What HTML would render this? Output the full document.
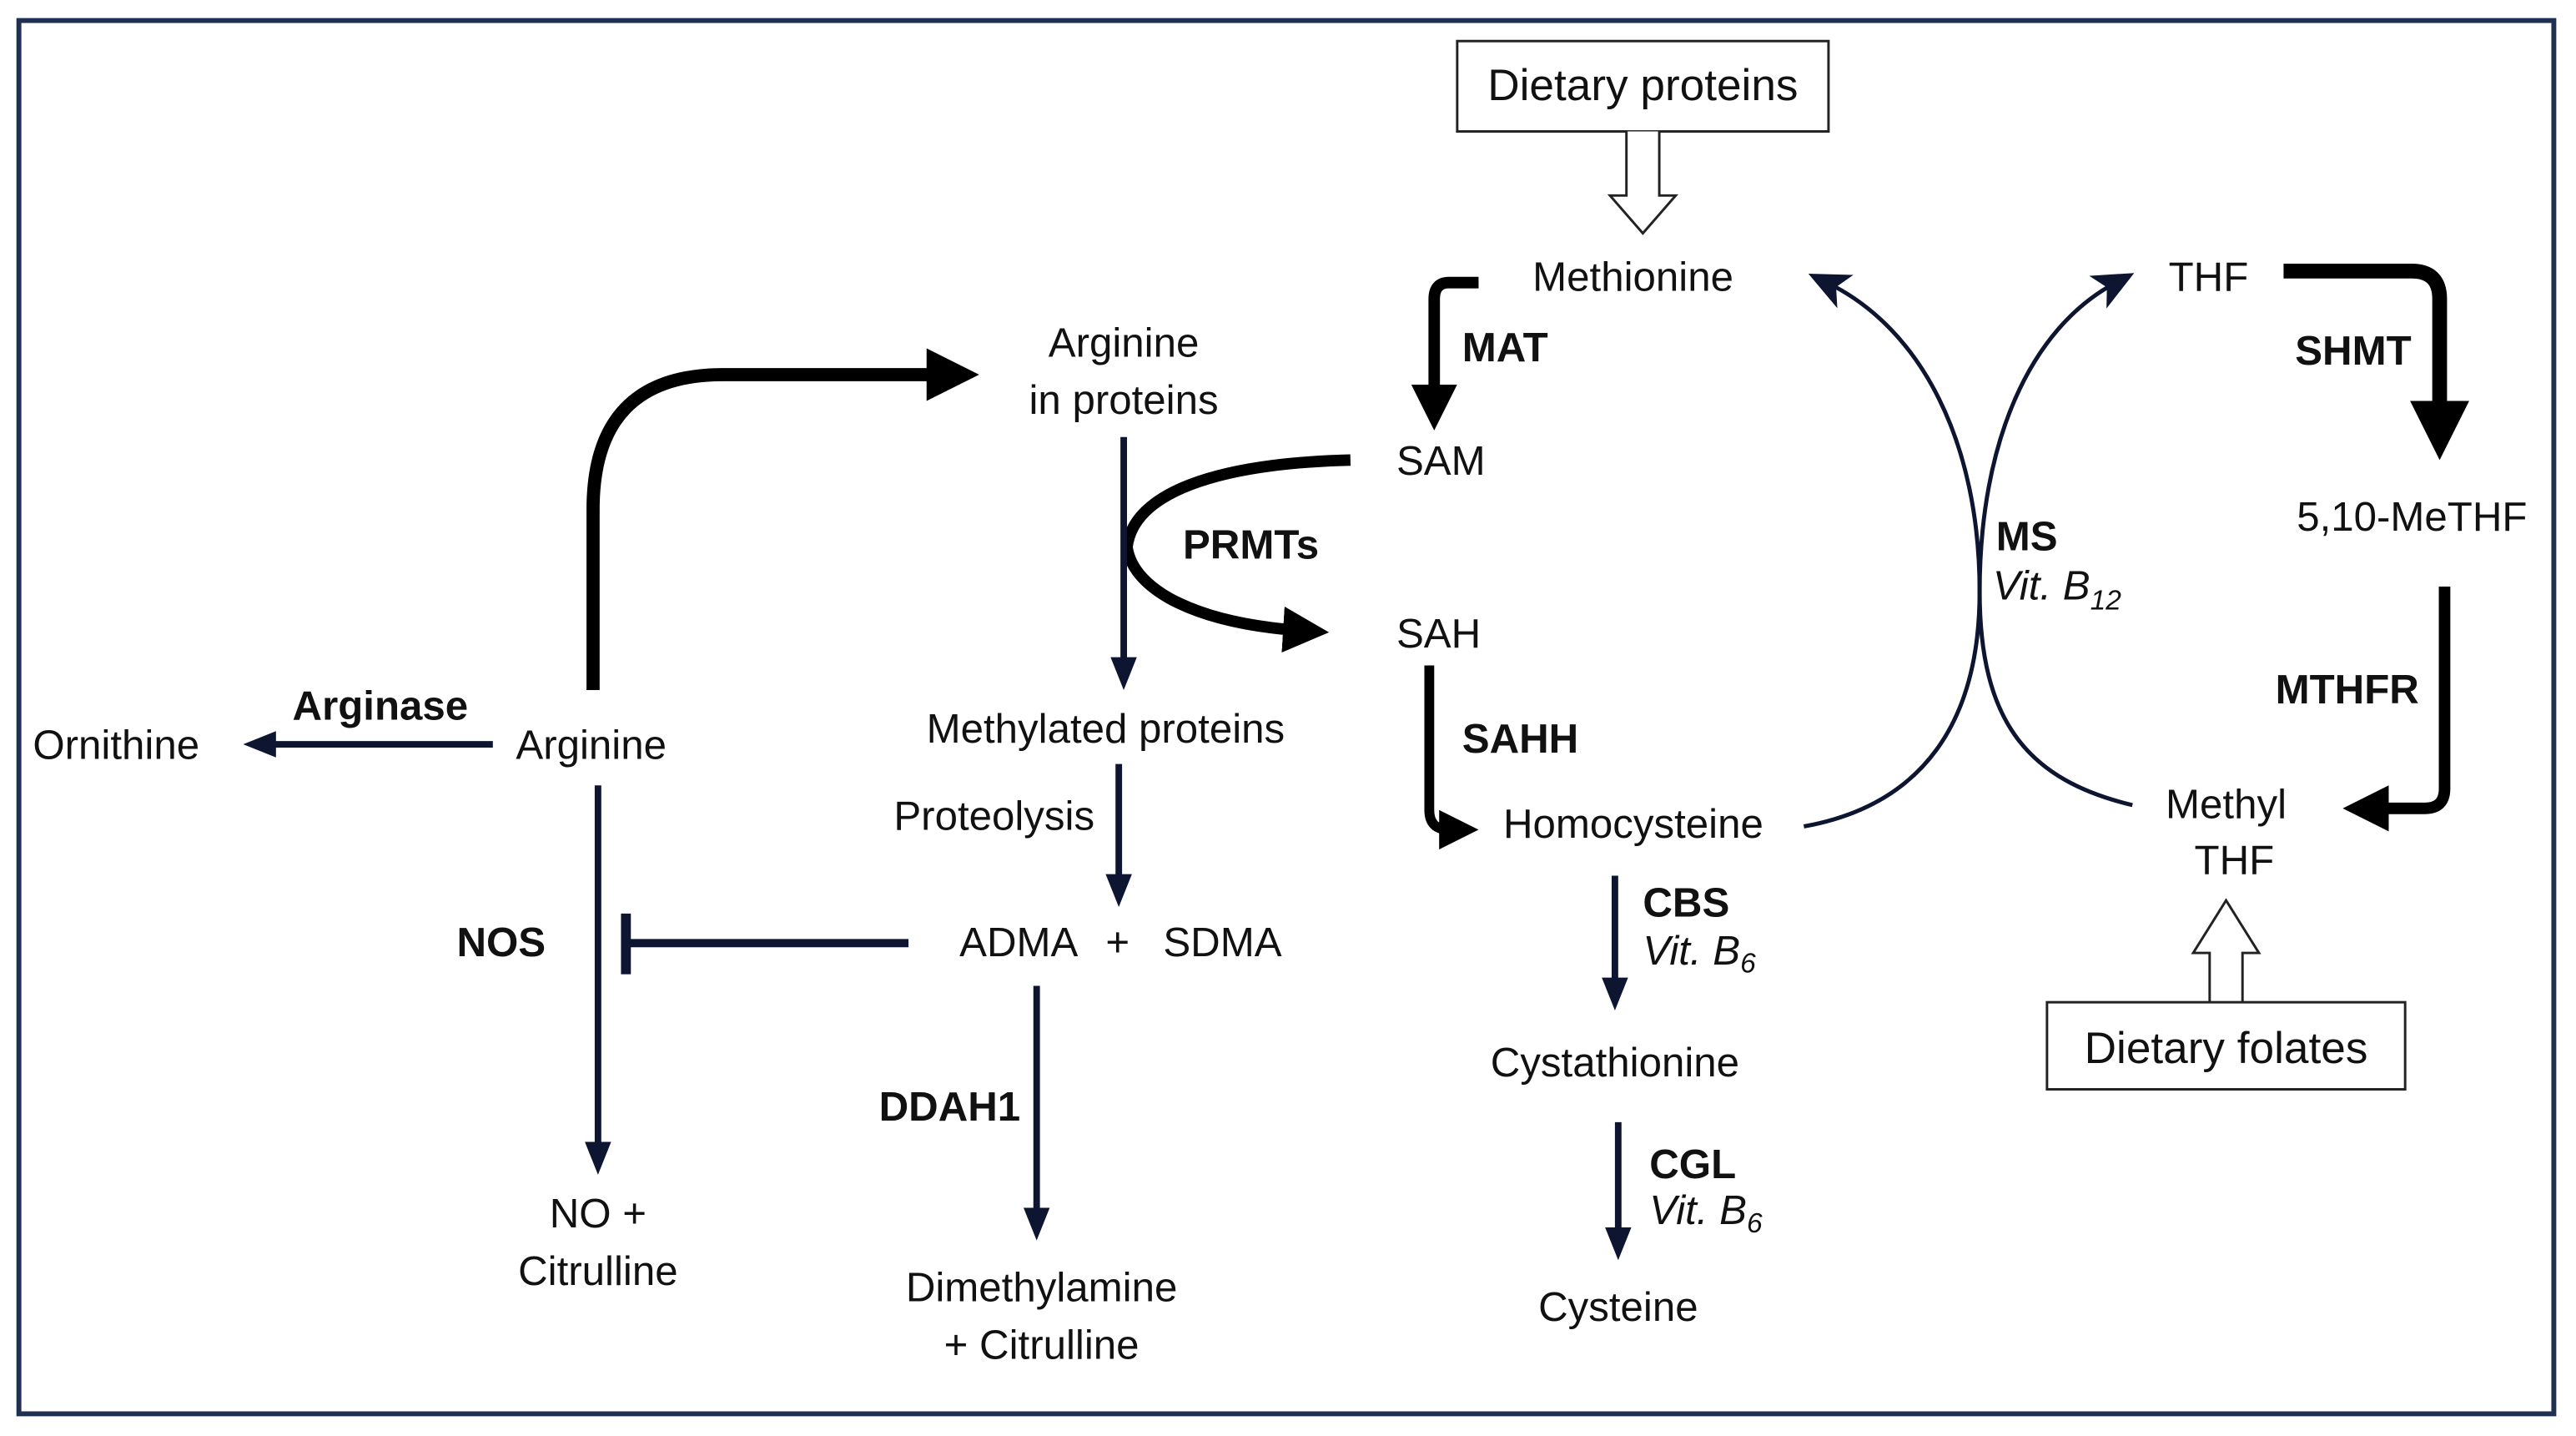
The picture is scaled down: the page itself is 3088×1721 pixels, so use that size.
<!DOCTYPE html>
<html><head><meta charset="utf-8"><style>
html,body{margin:0;padding:0;background:#fff;}
svg{display:block;}
text{font-family:"Liberation Sans",sans-serif;font-size:25px;fill:#111;}
.b{font-weight:bold;}
.i{font-style:italic;}
.m{text-anchor:middle;}
</style></head><body>
<svg width="3088" height="1721" viewBox="0 0 1568 874" preserveAspectRatio="none" xmlns="http://www.w3.org/2000/svg">
<defs>
<marker id="ah" markerWidth="4" markerHeight="4" refX="2" refY="2" orient="auto" markerUnits="strokeWidth"><path d="M0,0 L4,2 L0,4 z" fill="#000"/></marker>
<marker id="ahs" markerWidth="5" markerHeight="5" refX="2.5" refY="2.5" orient="auto" markerUnits="strokeWidth"><path d="M0,0.5 L5,2.5 L0,4.5 z" fill="#0d1530"/></marker>
<marker id="aht" markerWidth="10" markerHeight="10" refX="5" refY="5" orient="auto" markerUnits="strokeWidth"><path d="M0,0.5 L10,5 L0,9.5 L2.5,5 z" fill="#0d1530"/></marker>
</defs>
<rect x="11.5" y="12.5" width="1543" height="848" fill="none" stroke="#1f3050" stroke-width="3"/>

<rect x="887" y="25" width="226" height="55" fill="#fff" stroke="#222" stroke-width="1.5"/>
<text class="m" x="1000" y="61" style="font-size:27px">Dietary proteins</text>
<path d="M990,80 V119 H980 L1000,142 L1020,119 H1010 V80" fill="#fff" stroke="#222" stroke-width="1.5"/>

<text class="m" x="994" y="177">Methionine</text>
<path d="M900,172 H882 Q873,172 873,182 V248" fill="none" stroke="#000" stroke-width="7" marker-end="url(#ah)"/>
<text class="b" x="890" y="220">MAT</text>
<text x="850" y="289">SAM</text>
<text x="850" y="394">SAH</text>

<path d="M822,280 C740,282 690,300 686,333 C690,360 730,380 795,384" fill="none" stroke="#000" stroke-width="7" marker-end="url(#ah)"/>
<text class="b" x="720" y="340">PRMTs</text>

<text class="m" x="684" y="217">Arginine</text>
<text class="m" x="684" y="252">in proteins</text>
<path d="M684,266 V410" stroke="#0d1530" stroke-width="4" marker-end="url(#ahs)"/>
<text class="m" x="673" y="452">Methylated proteins</text>
<text x="544" y="505">Proteolysis</text>
<path d="M681,465 V542" stroke="#0d1530" stroke-width="4" marker-end="url(#ahs)"/>
<text x="584" y="582">ADMA</text>
<text x="673" y="582">+</text>
<text x="708" y="582">SDMA</text>
<path d="M553,574 H381" stroke="#0d1530" stroke-width="5"/>
<path d="M381,556 V593" stroke="#0d1530" stroke-width="6"/>

<text x="314" y="462">Arginine</text>
<text x="20" y="462">Ornithine</text>
<text class="b" x="178" y="438">Arginase</text>
<path d="M300,453 H158" stroke="#0d1530" stroke-width="4" marker-end="url(#ahs)"/>
<path d="M361,420 V310 Q361,228 440,228 H580" fill="none" stroke="#000" stroke-width="8" marker-end="url(#ah)"/>
<path d="M364,478 V705" stroke="#0d1530" stroke-width="4" marker-end="url(#ahs)"/>
<text class="b" x="278" y="582">NOS</text>
<text class="m" x="364" y="747">NO +</text>
<text class="m" x="364" y="782">Citrulline</text>
<path d="M631,600 V745" stroke="#0d1530" stroke-width="4" marker-end="url(#ahs)"/>
<text class="b" x="535" y="682">DDAH1</text>
<text class="m" x="634" y="792">Dimethylamine</text>
<text class="m" x="634" y="827">+ Citrulline</text>

<path d="M870,405 V493 Q870,505 882,505 H888" fill="none" stroke="#000" stroke-width="6" marker-end="url(#ah)"/>
<text class="b" x="890" y="458">SAHH</text>
<text x="915" y="510">Homocysteine</text>
<path d="M983,533 V605" stroke="#0d1530" stroke-width="4" marker-end="url(#ahs)"/>
<text class="b" x="1000" y="558">CBS</text>
<text class="i" x="1000" y="587">Vit. B<tspan dy="5" style="font-size:17px">6</tspan></text>
<text class="m" x="983" y="655">Cystathionine</text>
<path d="M985,683 V757" stroke="#0d1530" stroke-width="4" marker-end="url(#ahs)"/>
<text class="b" x="1004" y="717">CGL</text>
<text class="i" x="1004" y="745">Vit. B<tspan dy="5" style="font-size:17px">6</tspan></text>
<text class="m" x="985" y="804">Cysteine</text>

<path d="M1098,503 C1170,490 1205,440 1205,360 C1205,270 1170,200 1112,172" fill="none" stroke="#0d1530" stroke-width="2.5" marker-end="url(#aht)"/>
<path d="M1298,490 C1235,475 1205,440 1205,360 C1205,270 1235,200 1288,172" fill="none" stroke="#0d1530" stroke-width="2.5" marker-end="url(#aht)"/>
<text class="b" x="1215" y="335">MS</text>
<text class="i" x="1213" y="365">Vit. B<tspan dy="6" style="font-size:17px">12</tspan></text>

<text x="1320" y="177">THF</text>
<path d="M1390,165 H1468 Q1485,165 1485,182 V262" fill="none" stroke="#000" stroke-width="9" marker-end="url(#ah)"/>
<text class="b" x="1397" y="222">SHMT</text>
<text x="1398" y="323">5,10-MeTHF</text>
<path d="M1488,357 V480 Q1488,492 1476,492 H1440" fill="none" stroke="#000" stroke-width="7" marker-end="url(#ah)"/>
<text class="b" x="1385" y="428">MTHFR</text>
<text class="m" x="1355" y="498">Methyl</text>
<text class="m" x="1360" y="532">THF</text>
<path d="M1345,610 V580 H1335 L1355,548 L1375,580 H1365 V610" fill="#fff" stroke="#222" stroke-width="1.5"/>
<rect x="1246" y="610" width="218" height="53" fill="#fff" stroke="#222" stroke-width="1.5"/>
<text class="m" x="1355" y="647" style="font-size:27px">Dietary folates</text>
</svg>
</body></html>
